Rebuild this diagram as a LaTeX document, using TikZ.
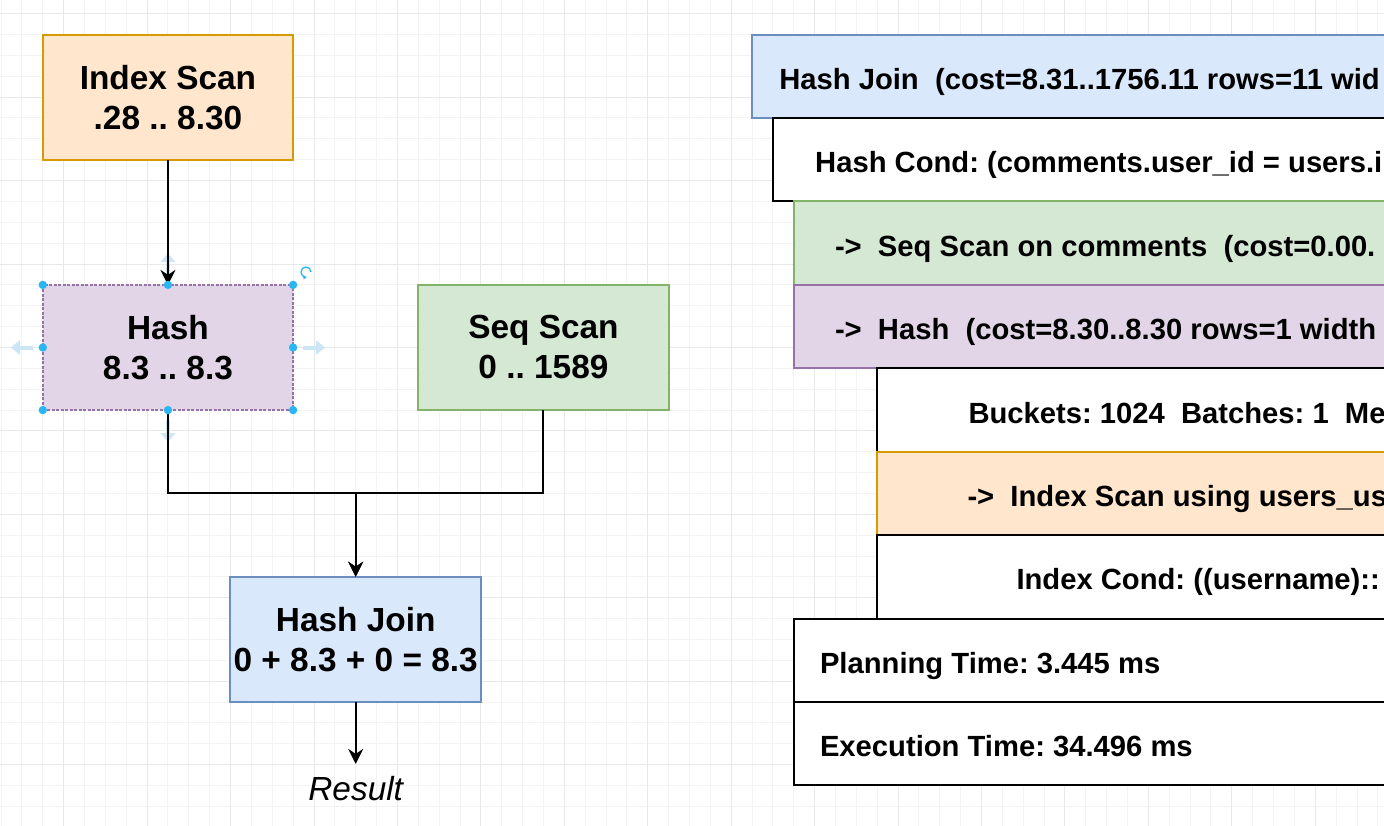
\documentclass[tikz,border=0pt]{standalone}
\usepackage{fontspec}
\setmainfont{Liberation Sans}
\usetikzlibrary{positioning,arrows.meta}
\frenchspacing

\definecolor{idxfill}{HTML}{FFE6CC}
\definecolor{idxline}{HTML}{D79B00}
\definecolor{hashfill}{HTML}{E1D5E7}
\definecolor{hashline}{HTML}{9673A6}
\definecolor{seqfill}{HTML}{D5E8D4}
\definecolor{seqline}{HTML}{82B366}
\definecolor{joinfill}{HTML}{DAE8FC}
\definecolor{joinline}{HTML}{6C8EBF}
\definecolor{gridlo}{HTML}{F3F3F3}
\definecolor{gridhi}{HTML}{E8E8E8}
\definecolor{handleblue}{HTML}{29B6F2}
\definecolor{hintblue}{HTML}{CDE6F6}

\newcommand{\boxfont}{\fontsize{33.4}{40}\selectfont\bfseries}
\newcommand{\planfont}{\fontsize{29.2}{35}\selectfont\bfseries}

\tikzset{
  costbox/.style={draw, line width=2pt, outer sep=0pt, minimum width=250.3pt,
    minimum height=125.2pt, align=center, font=\boxfont},
  planrow/.style={draw, fill=white, line width=2pt, outer sep=0pt, inner sep=0pt,
    anchor=north west, minimum width=700pt, minimum height=83.44pt},
  plantext/.style={inner sep=0pt, text height=26pt, text depth=0pt, font=\planfont},
  flow/.style={line width=2pt, -{Stealth[length=15pt,width=15pt,inset=5pt]}},
  hint/.style={line width=4pt, draw=hintblue, -{Triangle[length=9pt,width=14pt]}},
  handle/.style={fill=handleblue},
  gridminor/.style={line width=1pt, draw=gridlo},
  gridmajor/.style={line width=1pt, draw=gridhi}
}

\begin{document}
\begin{tikzpicture}[x=1pt, y=-1pt]
  \useasboundingbox (0,0) rectangle (1384,826);
  \clip (0,0) rectangle (1384,826);
  \fill[white] (0,0) rectangle (1384,826);

  % background grid
  \foreach \k in {0,...,66}
    \draw[gridminor] ({1.1+20.86*\k},0) -- ({1.1+20.86*\k},826);
  \foreach \k in {0,...,39}
    \draw[gridminor] (0,{13.7+20.86*\k}) -- (1384,{13.7+20.86*\k});
  \foreach \k in {3,7,...,67}
    \draw[gridmajor] ({1.1+20.86*\k},0) -- ({1.1+20.86*\k},826);
  \foreach \k in {0,4,...,36}
    \draw[gridmajor] (0,{13.7+20.86*\k}) -- (1384,{13.7+20.86*\k});

  % cost tree
  \node[costbox, fill=idxfill, draw=idxline] (idx) at (167.95,97.2) {Index Scan\\.28 .. 8.30};
  \node[costbox, fill=hashfill, draw=hashline, dash pattern=on 3pt off 1.5pt] (hash)
    [below=125.1pt of idx] {Hash\\8.3 .. 8.3};
  \node[costbox, fill=seqfill, draw=seqline] (seq) [right=125.2pt of hash] {Seq Scan\\0 .. 1589};
  \coordinate (jn) at (355.7,492.7);
  \node[costbox, fill=joinfill, draw=joinline] (hj) [below=84pt of jn] {Hash Join\\0 + 8.3 + 0 = 8.3};
  \node[font=\fontsize{33.4}{40}\selectfont\itshape, inner xsep=0pt, inner ysep=12.5pt] (res)
    [below=62pt of hj] {Result};

  % selection hints round the hash box
  \draw[hint] ([xshift=-10pt]hash.west) -- ++(-22,0);
  \draw[hint] ([xshift=10pt]hash.east) -- ++(22,0);
  \draw[hint] ([yshift=10pt]hash.north) -- ++(0,-22);
  \draw[hint] ([yshift=-10pt]hash.south) -- ++(0,22);

  \draw[flow] (idx) -- (hash);
  \draw[flow] (hash.south) |- (jn) -- (hj.north);
  \draw[flow] (seq.south) |- (jn) -- (hj.north);
  \draw[flow] (hj) -- (res);

  \foreach \a in {north west,north,north east,east,south east,south,south west,west}
    \fill[handle] (hash.\a) circle[radius=4.2pt];
  \coordinate (rot) at (306,272);
  \draw[handleblue, line width=1.3pt, -{Latex[length=3.5pt,width=4.5pt]}]
    ([xshift=5pt]rot) arc[start angle=0, end angle=280, radius=5pt];

  % explain output
  \node[planrow, fill=joinfill, draw=joinline] (pjoin) at (752.1,34.56) {};
  \node[plantext, right=27pt of pjoin.west] (tjoin) {Hash Join\ \ (cost=8.31..1756.11 rows=11 wid};
  \node[planrow] (pcond) at (773.0,117.99) {};
  \node[plantext, right=42pt of pcond.west] (tcond) {Hash Cond: (comments.user\_id = users.i};
  \node[planrow, fill=seqfill, draw=seqline] (pseq) at (793.8,201.43) {};
  \node[plantext, right=41pt of pseq.west] (tseq) {->\ \ Seq Scan on comments\ \ (cost=0.00.};
  \node[planrow, fill=hashfill, draw=hashline] (phash) at (793.8,284.86) {};
  \node[plantext, right=41pt of phash.west] (thash) {->\ \ Hash\ \ (cost=8.30..8.30 rows=1 width};
  \node[planrow] (pbuck) at (877.3,368.30) {};
  \node[plantext, right=91pt of pbuck.west] (tbuck) {Buckets: 1024\ \ Batches: 1\ \ Me};
  \node[planrow, fill=idxfill, draw=idxline] (pidx) at (877.3,451.73) {};
  \node[plantext, right=90pt of pidx.west] (tidx) {->\ \ Index Scan using users\_us};
  \node[planrow] (picond) at (877.3,535.17) {};
  \node[plantext, right=139pt of picond.west] (ticond) {Index Cond: ((username)::};
  \node[planrow] (pplan) at (793.8,618.6) {};
  \node[plantext, right=26pt of pplan.west] (tplan) {Planning Time: 3.445 ms};
  \node[planrow] (pexec) at (793.8,702.04) {};
  \node[plantext, right=26pt of pexec.west] (texec) {Execution Time: 34.496 ms};
\end{tikzpicture}
\end{document}
